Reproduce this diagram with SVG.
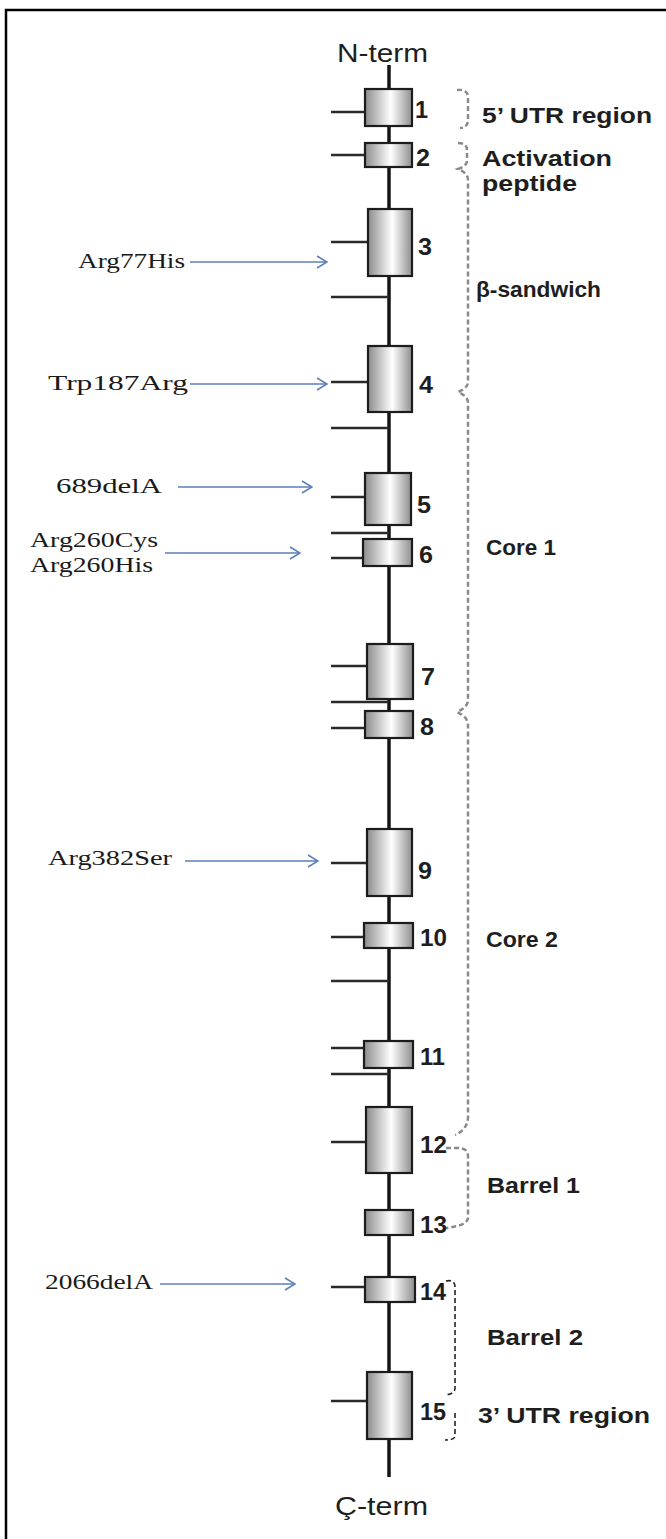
<svg xmlns="http://www.w3.org/2000/svg" width="666" height="1539" viewBox="0 0 666 1539">
<style>
.spine{stroke:#151515;stroke-width:3.5;fill:none}
.stub{stroke:#2a2a2a;stroke-width:2.5;fill:none}
.exon{fill:url(#g);stroke:#1c1c1c;stroke-width:2.2}
.num{font-family:"Liberation Sans",Arial,sans-serif;font-weight:bold;font-size:23px;fill:#1e1e1e}
.reg{font-family:"Liberation Sans",Arial,sans-serif;font-weight:bold;font-size:22px;fill:#1e1e1e}
.term{font-family:"Liberation Sans",Arial,sans-serif;font-size:26px;fill:#1e1e1e}
.mut{font-family:"Liberation Serif","Times New Roman",serif;font-size:22px;fill:#1a1a1a}
.arr{stroke:#5b7fb8;stroke-width:1.6;fill:none}
.br{stroke:#8a8a8a;stroke-width:2.5;stroke-dasharray:5 3;fill:none}
.br2{stroke:#222;stroke-width:1.6;stroke-dasharray:5 3;fill:none}
.frame{stroke:#000;stroke-width:2.5;fill:none}
</style>
<defs>
<linearGradient id="g" x1="0" y1="0" x2="1" y2="0">
<stop offset="0" stop-color="#8c8c8c"/>
<stop offset="0.55" stop-color="#ffffff"/>
<stop offset="1" stop-color="#8e8e8e"/>
</linearGradient>
<marker id="ah" markerWidth="12" markerHeight="14" refX="11" refY="7" orient="auto" markerUnits="userSpaceOnUse">
<path d="M1,1 L11,7 L1,13" stroke="#5b7fb8" stroke-width="1.5" fill="none"/>
</marker>
</defs>
<rect width="666" height="1539" fill="#fff"/>
<path class="frame" d="M6,1539 L6,10 L666,10"/>

<g id="spine">
<line class="spine" x1="389" y1="65" x2="389" y2="1477"/>
</g>

<g id="connectors">
<line class="stub" x1="331" y1="112" x2="365" y2="112"/>
<line class="stub" x1="331" y1="155" x2="365" y2="155"/>
<line class="stub" x1="331" y1="242" x2="368" y2="242"/>
<line class="stub" x1="331" y1="297" x2="389" y2="297"/>
<line class="stub" x1="331" y1="382" x2="368" y2="382"/>
<line class="stub" x1="331" y1="428" x2="389" y2="428"/>
<line class="stub" x1="331" y1="497" x2="365" y2="497"/>
<line class="stub" x1="331" y1="533" x2="389" y2="533"/>
<line class="stub" x1="331" y1="558" x2="363" y2="558"/>
<line class="stub" x1="331" y1="666" x2="367" y2="666"/>
<line class="stub" x1="331" y1="702" x2="389" y2="702"/>
<line class="stub" x1="331" y1="728" x2="365" y2="728"/>
<line class="stub" x1="331" y1="863" x2="367" y2="863"/>
<line class="stub" x1="331" y1="937" x2="364" y2="937"/>
<line class="stub" x1="331" y1="981" x2="389" y2="981"/>
<line class="stub" x1="331" y1="1048" x2="364" y2="1048"/>
<line class="stub" x1="331" y1="1074" x2="389" y2="1074"/>
<line class="stub" x1="331" y1="1142" x2="366" y2="1142"/>
<line class="stub" x1="331" y1="1287" x2="365" y2="1287"/>
<line class="stub" x1="331" y1="1401" x2="367" y2="1401"/>
<line class="arr" x1="190" y1="262" x2="327" y2="262" marker-end="url(#ah)"/>
<line class="arr" x1="190" y1="384" x2="327" y2="384" marker-end="url(#ah)"/>
<line class="arr" x1="178" y1="487" x2="312" y2="487" marker-end="url(#ah)"/>
<line class="arr" x1="165" y1="553" x2="300" y2="553" marker-end="url(#ah)"/>
<line class="arr" x1="185" y1="861" x2="318" y2="861" marker-end="url(#ah)"/>
<line class="arr" x1="160" y1="1284" x2="295" y2="1284" marker-end="url(#ah)"/>
<path class="br" d="M457,90 Q467,89 468,96 L468,121 Q467,128 460,128"/>
<path class="br" d="M458,143 Q467,143 467,150 L467,161 Q467,166 458,169 Q468,173 468,180 L468,382 Q468,388 458,392 Q468,396 468,403 L468,700 Q468,707 457,712 Q468,717 468,725 L468,1118 Q467,1130 455,1135 M446,1148 L458,1148 Q468,1148 468,1156 L468,1218 Q467,1226 445,1228"/>
<path class="br2" d="M446,1281 Q455,1279 455,1287 L455,1388 Q455,1394 445,1395 M455,1413 L455,1436 Q455,1440 445,1440"/>
</g>

<g id="exon1"><rect class="exon" x="365" y="89" width="47" height="37"/><text class="num" x="415" y="118" textLength="13" lengthAdjust="spacingAndGlyphs">1</text></g>
<g id="exon2"><rect class="exon" x="365" y="143" width="47" height="24"/><text class="num" x="416" y="166" textLength="14" lengthAdjust="spacingAndGlyphs">2</text></g>
<g id="exon3"><rect class="exon" x="368" y="209" width="44" height="67"/><text class="num" x="418" y="255" textLength="14" lengthAdjust="spacingAndGlyphs">3</text></g>
<g id="exon4"><rect class="exon" x="368" y="346" width="44" height="66"/><text class="num" x="419" y="393" textLength="14" lengthAdjust="spacingAndGlyphs">4</text></g>
<g id="exon5"><rect class="exon" x="365" y="473" width="46" height="52"/><text class="num" x="417" y="513" textLength="14" lengthAdjust="spacingAndGlyphs">5</text></g>
<g id="exon6"><rect class="exon" x="363" y="539" width="49" height="27"/><text class="num" x="419" y="563" textLength="14" lengthAdjust="spacingAndGlyphs">6</text></g>
<g id="exon7"><rect class="exon" x="367" y="644" width="46" height="55"/><text class="num" x="421" y="685" textLength="14" lengthAdjust="spacingAndGlyphs">7</text></g>
<g id="exon8"><rect class="exon" x="365" y="711" width="48" height="27"/><text class="num" x="420" y="735" textLength="14" lengthAdjust="spacingAndGlyphs">8</text></g>
<g id="exon9"><rect class="exon" x="367" y="829" width="45" height="67"/><text class="num" x="418" y="879" textLength="14" lengthAdjust="spacingAndGlyphs">9</text></g>
<g id="exon10"><rect class="exon" x="364" y="923" width="49" height="25"/><text class="num" x="420" y="946" textLength="27" lengthAdjust="spacingAndGlyphs">10</text></g>
<g id="exon11"><rect class="exon" x="364" y="1041" width="49" height="27"/><text class="num" x="420" y="1065" textLength="25" lengthAdjust="spacingAndGlyphs">11</text></g>
<g id="exon12"><rect class="exon" x="366" y="1107" width="46" height="66"/><text class="num" x="420" y="1153" textLength="27" lengthAdjust="spacingAndGlyphs">12</text></g>
<g id="exon13"><rect class="exon" x="365" y="1210" width="48" height="25"/><text class="num" x="420" y="1233" textLength="27" lengthAdjust="spacingAndGlyphs">13</text></g>
<g id="exon14"><rect class="exon" x="365" y="1277" width="50" height="25"/><text class="num" x="420" y="1300" textLength="26" lengthAdjust="spacingAndGlyphs">14</text></g>
<g id="exon15"><rect class="exon" x="367" y="1372" width="45" height="67"/><text class="num" x="420" y="1420" textLength="26" lengthAdjust="spacingAndGlyphs">15</text></g>

<g id="terms">
<text class="term" x="337" y="62" textLength="91" lengthAdjust="spacingAndGlyphs">N-term</text>
<text class="term" x="335" y="1515" textLength="93" lengthAdjust="spacingAndGlyphs">Ç-term</text>
</g>

<g id="regions">
<text class="reg" x="482" y="123" textLength="170" lengthAdjust="spacingAndGlyphs">5’ UTR region</text>
<text class="reg" x="482" y="166" textLength="130" lengthAdjust="spacingAndGlyphs">Activation</text>
<text class="reg" x="482" y="191" textLength="95" lengthAdjust="spacingAndGlyphs">peptide</text>
<text class="reg" x="476" y="297" textLength="125" lengthAdjust="spacingAndGlyphs">β-sandwich</text>
<text class="reg" x="486" y="555" textLength="70" lengthAdjust="spacingAndGlyphs">Core 1</text>
<text class="reg" x="486" y="947" textLength="72" lengthAdjust="spacingAndGlyphs">Core 2</text>
<text class="reg" x="487" y="1193" textLength="93" lengthAdjust="spacingAndGlyphs">Barrel 1</text>
<text class="reg" x="487" y="1345" textLength="96" lengthAdjust="spacingAndGlyphs">Barrel 2</text>
<text class="reg" x="478" y="1423" textLength="172" lengthAdjust="spacingAndGlyphs">3’ UTR region</text>
</g>

<g id="mutations">
<text class="mut" x="78" y="268" textLength="107" lengthAdjust="spacingAndGlyphs">Arg77His</text>
<text class="mut" x="48" y="390" textLength="140" lengthAdjust="spacingAndGlyphs">Trp187Arg</text>
<text class="mut" x="56" y="493" textLength="106" lengthAdjust="spacingAndGlyphs">689delA</text>
<text class="mut" x="30" y="547" textLength="128" lengthAdjust="spacingAndGlyphs">Arg260Cys</text>
<text class="mut" x="30" y="572" textLength="123" lengthAdjust="spacingAndGlyphs">Arg260His</text>
<text class="mut" x="48" y="865" textLength="124" lengthAdjust="spacingAndGlyphs">Arg382Ser</text>
<text class="mut" x="45" y="1289" textLength="108" lengthAdjust="spacingAndGlyphs">2066delA</text>
</g>
</svg>
